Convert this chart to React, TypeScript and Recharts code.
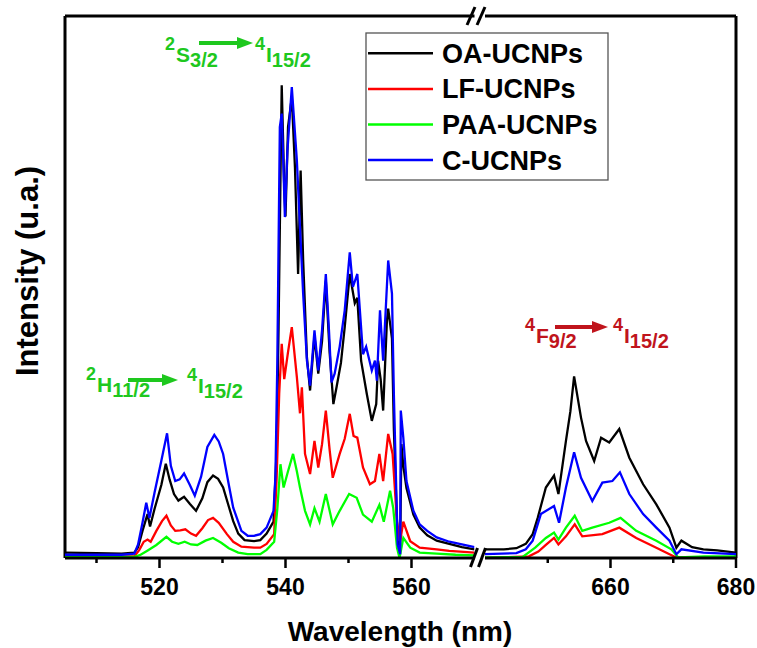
import React from 'react'
import { LineChart, Line, XAxis, YAxis, ReferenceLine } from 'recharts'

// [wavelength (nm), intensity (a.u.)], 505–570 nm window
const oaGreen: [number, number][] = [
  [505, 1.0], [510, 0.9], [514, 0.8], [516, 1.0], [516.6, 2.0], [517.3, 5.0], [518.1, 8.1], [518.5, 5.8],
  [519.2, 9.0], [520.3, 13.5], [521.0, 17.4], [521.6, 14.5], [522.3, 11.8], [523.0, 10.6], [523.9, 11.3],
  [524.8, 10.0], [525.8, 8.7], [526.8, 11.0], [527.6, 14.0], [528.5, 15.2], [529.3, 14.6], [530.1, 13.0],
  [531.0, 9.5], [531.7, 6.8], [532.5, 4.5], [533.5, 3.3], [535, 3.1], [536, 3.3], [537, 4.5], [538.1, 6.7],
  [538.6, 20], [538.9, 42.6], [539.2, 70], [539.4, 87.2], [539.6, 78], [539.8, 68.4], [540.0, 63],
  [540.4, 79.5], [541.0, 85], [541.5, 72.1], [542.0, 52.4], [542.4, 71.5], [542.8, 55], [543.4, 37],
  [543.9, 30.9], [544.6, 41], [545.2, 34], [545.8, 40], [546.4, 51.2], [547.0, 38], [547.6, 28.4],
  [548.1, 31.5], [548.8, 36], [549.4, 42.6], [550.2, 52.4], [551.0, 47], [551.4, 48], [552.0, 36.4],
  [552.9, 30.3], [553.7, 25.3], [554.4, 28.4], [554.7, 36.4], [555.1, 33], [555.5, 27.2], [556.1, 43.8],
  [556.3, 46], [556.9, 40.5], [557.2, 23.8], [557.8, 3.1], [558.2, 1.9], [558.4, 21], [558.7, 17],
  [559.2, 12.9], [560.3, 8], [561.3, 5.6], [562.5, 4.2], [564, 3.2], [566, 2.6], [568, 2.0], [570, 1.6],
]
const lfGreen: [number, number][] = [
  [505, 0.3], [510, 0.3], [516, 0.3], [516.8, 1.5], [517.5, 3.0], [518.1, 3.4], [518.6, 3.0], [519.5, 5],
  [520.4, 6.8], [521.1, 7.8], [521.8, 6.0], [522.5, 5.0], [523.3, 5.1], [524.1, 5.3], [525.0, 4.5],
  [525.8, 4.1], [526.8, 5.5], [527.7, 7.0], [528.5, 7.4], [529.4, 6.5], [530.7, 4.4], [531.7, 3.0],
  [533, 2.1], [535, 1.9], [536, 1.9], [537, 2.6], [538.2, 4.4], [538.6, 15], [539.0, 30.3], [539.4, 39.5],
  [539.8, 33], [540.4, 38], [541.0, 42.6], [541.8, 33.4], [542.3, 26.7], [542.6, 31.5], [543.1, 19.2],
  [543.9, 15.5], [544.6, 21.6], [545.2, 16.7], [545.8, 21], [546.4, 27.2], [547.0, 20], [547.5, 14.8],
  [548.6, 19.2], [549.4, 22], [550.2, 26.6], [550.8, 22.5], [551.4, 22.2], [552.3, 16.7], [553.4, 13.6],
  [554.2, 14.2], [554.9, 19.2], [555.5, 14.2], [556.3, 22.9], [557.0, 19.2], [557.7, 6.7], [558.2, 3.1],
  [558.7, 6.7], [559.8, 3.1], [561.3, 1.9], [564, 1.6], [566, 1.3], [570, 1.0],
]
const paaGreen: [number, number][] = [
  [505, 0.2], [510, 0.2], [516, 0.2], [517, 0.6], [518, 1.3], [519.5, 2.4], [521.1, 3.9], [522, 3.0],
  [523, 2.6], [524, 3.0], [525, 2.5], [526, 2.4], [527.3, 3.2], [528.5, 3.7], [529.8, 2.8], [531, 1.8],
  [532.5, 1.0], [534, 0.7], [536, 0.7], [537, 1.5], [538.2, 3.0], [538.7, 9], [539.2, 17.3], [539.7, 13],
  [540.4, 16], [541.2, 19.2], [541.8, 16], [542.3, 13], [543.1, 8.7], [543.9, 6.2], [544.6, 9.2],
  [545.4, 6.7], [546.4, 11.8], [547.5, 6.2], [548.6, 8.7], [550.1, 11.8], [551.3, 11.1], [552.3, 8],
  [553.7, 6.7], [554.9, 9.8], [555.6, 6.7], [556.6, 12.4], [557.1, 9.2], [557.7, 1.9], [558.1, 0],
  [558.7, 3.7], [559.8, 1.9], [561.3, 1.0], [564, 0.8], [567, 0.6], [570, 0.5],
]
const cGreen: [number, number][] = [
  [505, 0.6], [510, 0.6], [514, 0.6], [516, 0.8], [516.6, 2.5], [517.3, 6.5], [517.9, 10.2], [518.4, 7.4],
  [519.2, 12], [520.3, 18], [521.2, 23], [521.8, 17], [522.5, 14.2], [523.2, 14.5], [523.9, 15.6],
  [524.8, 13.5], [525.6, 11.5], [526.6, 15], [527.6, 20.5], [528.7, 22.7], [529.4, 21.5], [530.1, 19.2],
  [531.0, 13.5], [531.7, 9.3], [533.0, 5.0], [534, 4.1], [535, 4.1], [536, 4.4], [537, 5.6], [538.1, 8.7],
  [538.4, 15], [538.7, 36], [539.1, 79.5], [539.4, 82], [539.6, 75], [539.9, 62.9], [540.3, 75],
  [541.0, 86.9], [541.8, 73.4], [542.3, 61], [542.8, 48.8], [543.4, 36.4], [543.9, 31.8], [544.6, 42],
  [545.2, 34.6], [545.8, 42], [546.4, 52.4], [546.9, 42], [547.3, 32.4], [547.8, 34], [548.6, 39],
  [549.4, 45.7], [550.2, 56.4], [550.7, 50], [551.4, 52.4], [552.3, 37.6], [552.8, 39], [553.7, 34.6],
  [554.2, 36.4], [554.5, 32.7], [555.0, 45.7], [555.5, 36.4], [556.3, 54.9], [556.9, 48.8], [557.2, 30.3],
  [557.8, 2.5], [558.2, 0.7], [558.3, 27.2], [558.7, 22.2], [559.2, 14.2], [560.3, 8.7], [561.3, 6.2],
  [562.5, 5.0], [564, 3.8], [566, 3.0], [568, 2.5], [570, 2.0],
]

// 640–680 nm window
const oaRed: [number, number][] = [
  [640, 1.6], [643, 1.6], [645, 1.8], [646.5, 2.6], [647.6, 4.4], [648.4, 7.4], [649.7, 13], [651.0, 15.2],
  [651.7, 11.8], [652.9, 21.6], [653.6, 27], [654.2, 33.5], [655.3, 25.9], [656.1, 21.6], [657.4, 17.9],
  [658.5, 22.2], [659.8, 21.3], [661.4, 23.8], [663.0, 18.5], [665.2, 13.6], [667.3, 9.9], [669.4, 5.6],
  [670.5, 1.9], [671.3, 3.2], [673, 2.0], [674.8, 1.6], [677, 1.4], [680, 1.0],
]
const lfRed: [number, number][] = [
  [640, 0], [647, 0.3], [648.5, 1.2], [649.7, 2.4], [651, 3.7], [651.7, 2.5], [652.9, 4.0], [654.3, 6.2],
  [655.5, 4.0], [658.7, 4.4], [661.4, 5.6], [664.1, 3.7], [667.3, 1.9], [669.4, 0.7], [670.5, 0.1], [680, 0.1],
]
const paaRed: [number, number][] = [
  [640, 0.1], [646, 0.2], [648, 1.9], [649.7, 3.7], [651.0, 4.7], [651.7, 3.4], [652.9, 5.6], [654.3, 7.8],
  [655.5, 5.0], [657.1, 5.6], [659.8, 6.5], [661.6, 7.4], [664.1, 5.0], [667.3, 3.2], [669.7, 1.6],
  [670.8, 0.1], [675, 0.3], [680, 0.3],
]
const cRed: [number, number][] = [
  [640, 0.7], [645, 0.9], [646.5, 1.6], [647.6, 3.2], [648.9, 8.1], [651.0, 9.6], [651.8, 6.5], [652.9, 13],
  [654.2, 19.5], [655.3, 14.8], [657.1, 10.5], [658.7, 13.9], [660.3, 14.2], [661.5, 15.8], [663.0, 11.8],
  [665.2, 8.1], [667.3, 5.6], [669.4, 3.2], [670.5, 0.7], [671.3, 1.6], [674.8, 1.0], [680, 0.7],
]

const seriesNames = ['OA-UCNPs', 'LF-UCNPs', 'PAA-UCNPs', 'C-UCNPs']
const seriesColors = ['#000000', '#ff0000', '#00ff00', '#0000ff']
const greenBand = [oaGreen, lfGreen, paaGreen, cGreen]
const redBand = [oaRed, lfRed, paaRed, cRed]

const ticksLeft = [510, 520, 530, 540, 550, 560]
const ticksRight = [650, 660, 670, 680]
const labelledTicks = [520, 540, 560, 660, 680]

const FONT = '"Liberation Sans", Arial, sans-serif'
const toPoints = (arr: [number, number][]) => arr.map(([x, y]) => ({ x, y }))

const WavelengthTick = (props: any) => {
  const { x, y, payload } = props
  const major = labelledTicks.includes(payload.value)
  return (
    <g>
      <line x1={x} x2={x} y1={y} y2={y + (major ? 10 : 5)} stroke="#000" strokeWidth={2.5} />
      {major && (
        <text x={x} y={y + 37} textAnchor="middle" fontFamily={FONT} fontWeight="bold" fontSize={23} fill="#000">
          {payload.value}
        </text>
      )}
    </g>
  )
}

function Segment({ domain, ticks, bands, left, width, margin, edge }: any) {
  return (
    <div style={{ position: 'absolute', left, top: 0 }}>
      <LineChart width={width} height={648} margin={margin}>
        <XAxis
          type="number"
          dataKey="x"
          domain={domain}
          ticks={ticks}
          interval={0}
          allowDataOverflow
          height={60}
          tickSize={0}
          tickMargin={0}
          tickLine={false}
          axisLine={{ stroke: '#000', strokeWidth: 3 }}
          tick={<WavelengthTick />}
        />
        <YAxis hide domain={[0, 100]} allowDataOverflow />
        <ReferenceLine y={100} stroke="#000" strokeWidth={3} />
        <ReferenceLine x={edge} stroke="#000" strokeWidth={3} />
        {bands.map((b: [number, number][], i: number) => (
          <Line
            key={seriesNames[i]}
            data={toPoints(b)}
            dataKey="y"
            type="linear"
            stroke={seriesColors[i]}
            strokeWidth={2.3}
            dot={false}
            isAnimationActive={false}
          />
        ))}
      </LineChart>
    </div>
  )
}

const Arrow = ({ x1, x2, y, color }: any) => (
  <g>
    <line x1={x1} x2={x2 - 14} y1={y} y2={y} stroke={color} strokeWidth={4} />
    <polygon points={`${x2 - 16},${y - 6} ${x2},${y} ${x2 - 16},${y + 6}`} fill={color} />
  </g>
)

const Term = ({ x, y, sup, main, sub, color }: any) => (
  <text x={x} y={y} fontFamily={FONT} fontWeight="bold" fill={color}>
    <tspan fontSize={18} dy={-12}>{sup}</tspan>
    <tspan fontSize={21} dy={12} dx={1}>{main}</tspan>
    <tspan fontSize={20} dy={5}>{sub}</tspan>
  </text>
)

export default function App() {
  const green = '#1ec81e'
  const darkRed = '#c0141c'
  return (
    <div style={{ position: 'absolute', left: 0, top: 0, width: 757, height: 648, background: '#fff' }}>
      <Segment
        domain={[505, 570]}
        ticks={ticksLeft}
        bands={greenBand}
        left={0}
        width={480}
        margin={{ top: 16, right: 5.5, bottom: 30, left: 65 }}
        edge={505}
      />
      <Segment
        domain={[640, 680]}
        ticks={ticksRight}
        bands={redBand}
        left={480}
        width={277}
        margin={{ top: 16, right: 21, bottom: 30, left: 5 }}
        edge={680}
      />
      <svg width={757} height={648} style={{ position: 'absolute', left: 0, top: 0, pointerEvents: 'none' }}>
        {/* axis break marks */}
        <rect x={475} y={10} width={9} height={12} fill="#fff" />
        <line x1={467} y1={25} x2={475} y2={7} stroke="#000" strokeWidth={3} />
        <line x1={477} y1={25} x2={485} y2={7} stroke="#000" strokeWidth={3} />
        <line x1={470.5} y1={567} x2={477.5} y2={548} stroke="#000" strokeWidth={3} />
        <line x1={478.5} y1={567} x2={485.5} y2={548} stroke="#000" strokeWidth={3} />

        {/* transition labels */}
        <Term x={165} y={62} sup="2" main="S" sub="3/2" color={green} />
        <Arrow x1={199} x2={253} y={43} color={green} />
        <Term x={255} y={62} sup="4" main="I" sub="15/2" color={green} />

        <Term x={86} y={392} sup="2" main="H" sub="11/2" color={green} />
        <Arrow x1={128} x2={178} y={380} color={green} />
        <Term x={187} y={393} sup="4" main="I" sub="15/2" color={green} />

        <Term x={525} y={343} sup="4" main="F" sub="9/2" color={darkRed} />
        <Arrow x1={555} x2={608} y={327} color={darkRed} />
        <Term x={613} y={343} sup="4" main="I" sub="15/2" color={darkRed} />

        {/* legend */}
        <rect x={366} y={33} width={242} height={147} fill="#fff" stroke="#555" strokeWidth={1.3} />
        {seriesNames.map((n, i) => {
          const ly = 53.3 + i * 35.6
          return (
            <g key={n}>
              <line x1={368} x2={433} y1={ly} y2={ly} stroke={seriesColors[i]} strokeWidth={2.5} />
              <text x={442} y={ly + 9.5} fontFamily={FONT} fontWeight="bold" fontSize={27} fill="#000">
                {n}
              </text>
            </g>
          )
        })}

        {/* axis titles */}
        <text x={400} y={641} textAnchor="middle" fontFamily={FONT} fontWeight="bold" fontSize={28} fill="#000">
          Wavelength (nm)
        </text>
        <text
          transform="translate(38,271) rotate(-90)"
          textAnchor="middle"
          fontFamily={FONT}
          fontWeight="bold"
          fontSize={31}
          fill="#000"
        >
          Intensity (u.a.)
        </text>
      </svg>
    </div>
  )
}
